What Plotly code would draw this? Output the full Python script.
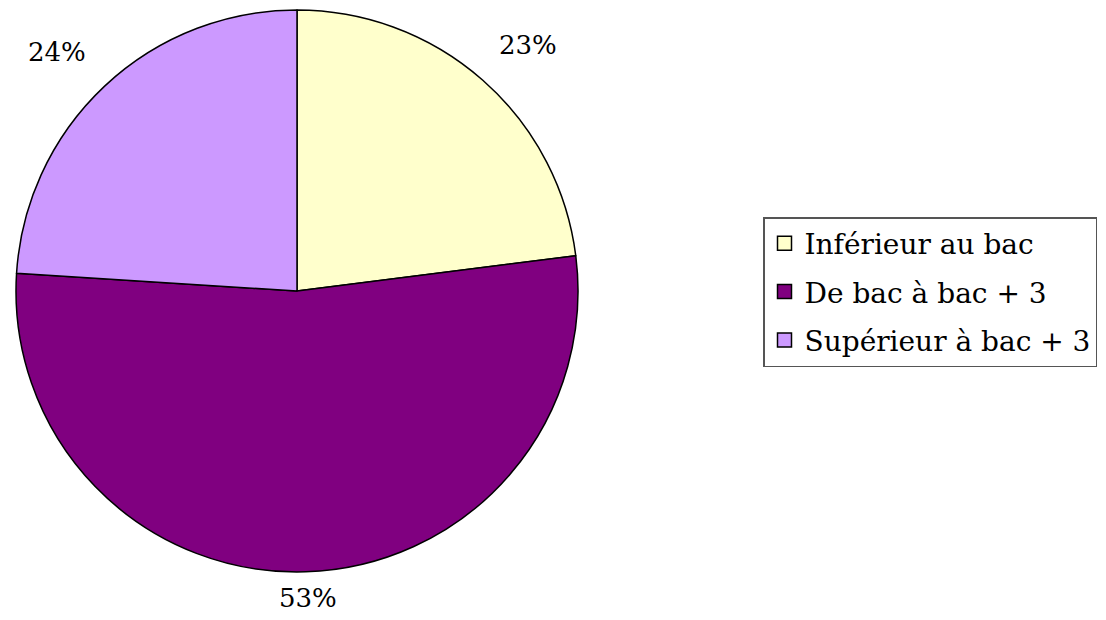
import math
import plotly.graph_objects as go

categories = ["Inférieur au bac", "De bac à bac + 3", "Supérieur à bac + 3"]
values = [23, 53, 24]
colors = ["#FFFFCC", "#800080", "#CC99FF"]

W, H = 1106, 620
OFF = 8  # page body margin
cx, cy, R = 297 - OFF, 291 - OFF, 281
FONT = "DejaVu Serif"

fig = go.Figure(go.Pie(
    labels=categories, values=values, sort=False, direction="clockwise", rotation=0,
    marker=dict(colors=colors, line=dict(color="black", width=1.5)),
    textinfo="none", hoverinfo="label+percent", showlegend=False,
    domain=dict(x=[(cx - R) / W, (cx + R) / W], y=[1 - (cy + R) / H, 1 - (cy - R) / H]),
))

# legend entries (one per category, so the row spacing can be set)
for cat, col in zip(categories, colors):
    fig.add_trace(go.Scatter(
        x=[None], y=[None], mode="markers", name=cat, legendgroup=cat,
        marker=dict(symbol="square", size=14, color=col, line=dict(color="black", width=1.5)),
    ))

total = sum(values)
cum = 0
annotations = []
for v in values:
    mid = (cum + v / 2) / total * 2 * math.pi
    cum += v
    s, c = math.sin(mid), math.cos(mid)
    x = cx + (R + 69) * s
    y = cy - (R + (47 if c > 0 else 26)) * c
    annotations.append(dict(x=x / W, y=1 - y / H, xref="paper", yref="paper",
                            xanchor="center", yanchor="middle",
                            text=f"{round(v / total * 100)}%", showarrow=False,
                            font=dict(size=26, family=FONT, color="black")))

fig.update_layout(
    width=W, height=H, margin=dict(l=0, r=0, t=0, b=0),
    paper_bgcolor="white", plot_bgcolor="white",
    font=dict(family=FONT, color="black"),
    showlegend=True,
    xaxis=dict(visible=False), yaxis=dict(visible=False),
    legend=dict(x=(763 - OFF) / W, y=1 - (217 - OFF) / H, xanchor="left", yanchor="top",
                bordercolor="#555555", borderwidth=1.5, bgcolor="white",
                font=dict(size=28, family=FONT, color="black"),
                tracegroupgap=9, itemwidth=30),
    annotations=annotations,
)
fig.write_html("out.html")
